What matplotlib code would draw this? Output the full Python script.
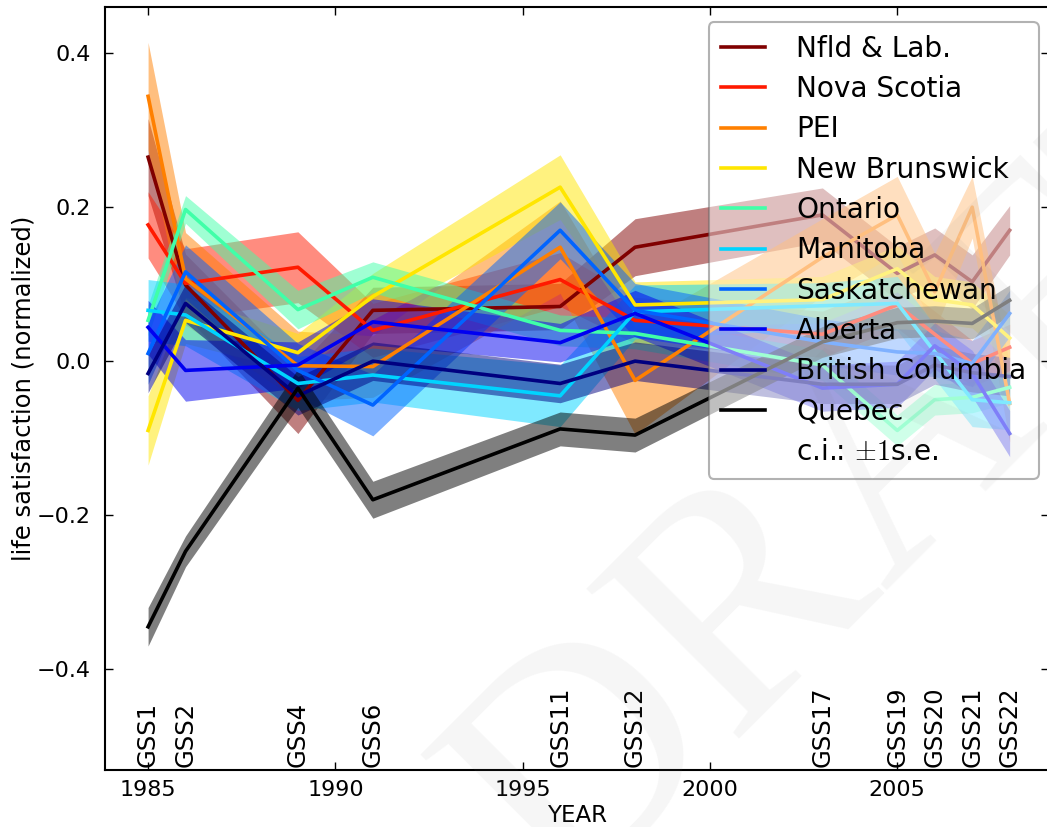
import matplotlib
matplotlib.use("Agg")
import matplotlib.pyplot as plt
import numpy as np

years = [1985, 1986, 1989, 1991, 1996, 1998, 2003, 2005, 2006, 2007, 2008]
surveys = ["GSS1", "GSS2", "GSS4", "GSS6", "GSS11", "GSS12",
           "GSS17", "GSS19", "GSS20", "GSS21", "GSS22"]

provinces = ["Nfld & Lab.", "Nova Scotia", "PEI", "New Brunswick", "Ontario",
             "Manitoba", "Saskatchewan", "Alberta", "British Columbia", "Quebec"]
colors = ["#800000", "#ff1a00", "#ff8000", "#ffe600", "#40ffa8",
          "#00d4ff", "#0064ff", "#0000f1", "#000080", "#000000"]

nfld = [0.265, 0.099, -0.051, 0.066, 0.071, 0.148, 0.190, 0.114, 0.138, 0.103, 0.170]
nfld_se = [0.05, 0.04, 0.043, 0.03, 0.03, 0.037, 0.035, 0.035, 0.035, 0.035, 0.032]
ns = [0.177, 0.101, 0.122, 0.040, 0.106, 0.053, 0.035, 0.073, 0.035, -0.003, 0.018]
ns_se = [0.043, 0.045, 0.046, 0.035, 0.035, 0.03, 0.03, 0.03, 0.03, 0.03, 0.03]
pei = [0.344, 0.107, -0.006, -0.007, 0.148, -0.025, 0.135, 0.190, 0.090, 0.200, -0.055]
pei_se = [0.07, 0.06, 0.045, 0.04, 0.06, 0.07, 0.05, 0.05, 0.05, 0.04, 0.05]
nb = [-0.090, 0.053, 0.011, 0.084, 0.226, 0.073, 0.080, 0.120, 0.080, 0.073, 0.030]
nb_se = [0.045, 0.03, 0.025, 0.03, 0.042, 0.03, 0.03, 0.03, 0.03, 0.03, 0.03]
ont = [0.053, 0.197, 0.067, 0.109, 0.040, 0.036, -0.005, -0.090, -0.050, -0.047, -0.034]
ont_se = [0.02, 0.018, 0.025, 0.02, 0.02, 0.02, 0.02, 0.02, 0.02, 0.02, 0.02]
man = [0.066, 0.060, -0.029, -0.018, -0.045, 0.064, 0.072, 0.075, 0.012, -0.050, -0.054]
man_se = [0.04, 0.04, 0.035, 0.035, 0.04, 0.035, 0.03, 0.035, 0.035, 0.035, 0.035]
sask = [0.010, 0.116, -0.012, -0.057, 0.170, 0.066, 0.025, 0.012, 0.010, -0.003, 0.062]
sask_se = [0.04, 0.035, 0.035, 0.04, 0.037, 0.035, 0.03, 0.03, 0.03, 0.03, 0.03]
alta = [0.044, -0.012, -0.005, 0.051, 0.024, 0.062, -0.035, -0.030, 0.020, -0.016, -0.094]
alta_se = [0.035, 0.04, 0.03, 0.03, 0.025, 0.03, 0.03, 0.03, 0.03, 0.03, 0.03]
bc = [-0.016, 0.075, -0.045, 0.000, -0.029, 0.000, -0.030, -0.030, -0.005, -0.015, -0.020]
bc_se = [0.025] * 11
que = [-0.345, -0.247, -0.035, -0.180, -0.088, -0.096, 0.025, 0.050, 0.052, 0.049, 0.079]
que_se = [0.025, 0.02, 0.025, 0.024, 0.022, 0.022, 0.02, 0.02, 0.02, 0.02, 0.02]

means = [nfld, ns, pei, nb, ont, man, sask, alta, bc, que]
errs = [nfld_se, ns_se, pei_se, nb_se, ont_se, man_se, sask_se, alta_se, bc_se, que_se]

plt.rcParams["mathtext.fontset"] = "cm"
fig = plt.figure(figsize=(10.47, 8.27), dpi=100)
ax = fig.add_axes([105 / 1047, 57 / 827, 944 / 1047, 763 / 827])

for name, c, m, e in zip(provinces, colors, means, errs):
    m = np.array(m)
    e = np.array(e)
    ax.fill_between(years, m - e, m + e, color=c, alpha=0.5, linewidth=0)
    ax.plot(years, m, color=c, lw=2.6, label=name)

ax.plot([], [], color="none", label=r"c.i.: $\pm1$s.e.")

ax.set_xlim(1983.85, 2009.05)
ax.set_ylim(-0.531, 0.46)
ax.set_xticks([1985, 1990, 1995, 2000, 2005])
ax.set_yticks([-0.4, -0.2, 0.0, 0.2, 0.4])
ax.tick_params(direction="in", top=True, right=True, length=5.7, width=1,
               labelsize=16)
ax.tick_params(axis="x", pad=7)
ax.tick_params(axis="y", pad=10)
for sp in ax.spines.values():
    sp.set_linewidth(1.5)

# survey labels along the bottom
for yr, s in zip(years, surveys):
    ax.text(yr, 0.004, s, transform=ax.get_xaxis_transform(), rotation=90,
            ha="center", va="bottom", fontsize=17.5)

ax.set_xlabel("YEAR", fontsize=16.5, labelpad=3)
ax.set_ylabel("life satisfaction (normalized)", fontsize=17.5, labelpad=1)

leg = ax.legend(loc="upper right", bbox_to_anchor=(0.9894, 0.9803),
                borderaxespad=0, fontsize=20.2, handlelength=1.57,
                handletextpad=1.1, labelspacing=0.44, borderpad=0.45,
                fancybox=True, framealpha=0.5)
leg.get_frame().set_edgecolor("0.4")
leg.get_frame().set_linewidth(1.5)

fig.text(0.845, 0.43, "DRAFT", rotation=45, fontsize=235, color="0.5",
         alpha=0.07, family="Liberation Serif", ha="center", va="center",
         zorder=10)

fig.savefig("out.png", dpi=100)
